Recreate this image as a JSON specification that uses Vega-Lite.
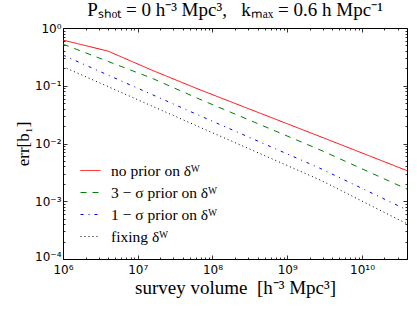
{
  "$schema": "https://vega.github.io/schema/vega-lite/v6.json",
  "width": 344,
  "height": 231,
  "autosize": {"type": "none"},
  "padding": {"left": 63, "top": 28, "right": 10, "bottom": 54},
  "title": {"text": "Pₛₕₒₜ = 0 h⁻³ Mpc³,\u00a0\u00a0\u00a0kₘₐₓ = 0.6 h Mpc⁻¹", "font": "Liberation Serif", "fontSize": 19, "fontWeight": "normal", "offset": 2, "color": "#000"},
  "data": {"values": [
    {"series": "no prior on δᵂ", "volume": 1e6, "err": 0.617},
    {"series": "no prior on δᵂ", "volume": 4e6, "err": 0.398},
    {"series": "no prior on δᵂ", "volume": 1.55e7, "err": 0.186},
    {"series": "no prior on δᵂ", "volume": 6.8e7, "err": 0.0851},
    {"series": "no prior on δᵂ", "volume": 2.75e9, "err": 0.0132},
    {"series": "no prior on δᵂ", "volume": 4e10, "err": 0.00339},
    {"series": "3 − σ prior on δᵂ", "volume": 1e6, "err": 0.525},
    {"series": "3 − σ prior on δᵂ", "volume": 1.55e7, "err": 0.135},
    {"series": "3 − σ prior on δᵂ", "volume": 6.8e7, "err": 0.0582},
    {"series": "3 − σ prior on δᵂ", "volume": 2.75e9, "err": 0.00776},
    {"series": "3 − σ prior on δᵂ", "volume": 4e10, "err": 0.00162},
    {"series": "1 − σ prior on δᵂ", "volume": 1e6, "err": 0.339},
    {"series": "1 − σ prior on δᵂ", "volume": 6.8e7, "err": 0.0302},
    {"series": "1 − σ prior on δᵂ", "volume": 2.75e9, "err": 0.00372},
    {"series": "1 − σ prior on δᵂ", "volume": 4e10, "err": 0.000708},
    {"series": "fixing δᵂ", "volume": 1e6, "err": 0.214},
    {"series": "fixing δᵂ", "volume": 6.8e7, "err": 0.0191},
    {"series": "fixing δᵂ", "volume": 2.75e9, "err": 0.00234},
    {"series": "fixing δᵂ", "volume": 4e10, "err": 0.000407}
  ]},
  "layer": [
    {
      "mark": {"type": "line", "strokeWidth": 1, "clip": true},
      "encoding": {
        "x": {"field": "volume", "type": "quantitative",
          "scale": {"type": "log", "domain": [1e6, 4e10], "nice": false},
          "axis": {"orient": "bottom", "tickCount": 40, "labelOverlap": false, "labelFlush": false,
            "labelExpr": "abs(log(datum.value)/LN10 - round(log(datum.value)/LN10)) < 0.001 ? ['10⁶','10⁷','10⁸','10⁹','10¹⁰'][round(log(datum.value)/LN10)-6] : ''",
            "tickSize": {"condition": {"test": "abs(log(datum.value)/LN10 - round(log(datum.value)/LN10)) < 0.001", "value": -4}, "value": -2},
            "labelPadding": 9,
            "title": "survey volume\u00a0\u00a0[h⁻³ Mpc³]", "titleFont": "Liberation Serif", "titleFontSize": 19, "titleFontWeight": "normal", "titlePadding": 1}},
        "y": {"field": "err", "type": "quantitative",
          "scale": {"type": "log", "domain": [0.0001, 1], "nice": false},
          "axis": {"orient": "left", "tickCount": 40, "labelOverlap": false, "labelFlush": false,
            "labelExpr": "abs(log(datum.value)/LN10 - round(log(datum.value)/LN10)) < 0.001 ? ['10⁻⁴','10⁻³','10⁻²','10⁻¹','10⁰'][round(log(datum.value)/LN10)+4] : ''",
            "labelOffset": {"condition": {"test": "datum.value < 0.0002", "value": -3}, "value": 0},
            "tickSize": {"condition": {"test": "abs(log(datum.value)/LN10 - round(log(datum.value)/LN10)) < 0.001", "value": -4}, "value": -2},
            "labelPadding": 6,
            "title": "err[b₁]", "titleFont": "Liberation Serif", "titleFontSize": 17, "titleFontWeight": "normal", "titlePadding": 2}},
        "color": {"field": "series", "type": "nominal",
          "scale": {"domain": ["no prior on δᵂ", "3 − σ prior on δᵂ", "1 − σ prior on δᵂ", "fixing δᵂ"], "range": ["#ff0000", "#008000", "#0000ff", "#000000"]},
          "legend": {"orient": "none", "legendX": 17, "legendY": 132, "title": null, "padding": 0, "symbolType": "stroke", "symbolSize": 400, "symbolStrokeWidth": 1, "labelFont": "Liberation Serif", "labelFontSize": 15.5, "labelOffset": 10, "rowPadding": 3, "labelColor": "#000"}},
        "strokeDash": {"field": "series", "type": "nominal",
          "scale": {"domain": ["no prior on δᵂ", "3 − σ prior on δᵂ", "1 − σ prior on δᵂ", "fixing δᵂ"], "range": [[1, 0], [6, 6], [3, 5, 1, 5], [1, 3]]},
          "legend": {"orient": "none", "legendX": 17, "legendY": 132, "title": null, "padding": 0, "symbolType": "stroke", "symbolSize": 400, "symbolStrokeWidth": 1, "labelFont": "Liberation Serif", "labelFontSize": 15.5, "labelOffset": 10, "rowPadding": 3, "labelColor": "#000"}}
      }
    },
    {
      "mark": {"type": "point", "opacity": 0},
      "encoding": {
        "x": {"field": "volume", "type": "quantitative",
          "scale": {"type": "log", "domain": [1e6, 4e10], "nice": false},
          "axis": {"orient": "top", "tickCount": 40, "labels": false, "title": null,
            "tickSize": {"condition": {"test": "abs(log(datum.value)/LN10 - round(log(datum.value)/LN10)) < 0.001", "value": -4}, "value": -2}}},
        "y": {"field": "err", "type": "quantitative",
          "scale": {"type": "log", "domain": [0.0001, 1], "nice": false},
          "axis": {"orient": "right", "tickCount": 40, "labels": false, "title": null,
            "tickSize": {"condition": {"test": "abs(log(datum.value)/LN10 - round(log(datum.value)/LN10)) < 0.001", "value": -4}, "value": -2}}}
      }
    }
  ],
  "resolve": {"axis": {"x": "independent", "y": "independent"}},
  "config": {
    "background": "#ffffff",
    "view": {"stroke": "#000000", "strokeWidth": 1},
    "axis": {"grid": false, "domain": false, "tickColor": "#000", "tickWidth": 0.8, "labelFont": "DejaVu Sans", "labelFontSize": 12, "labelColor": "#000", "titleColor": "#000"}
  }
}
